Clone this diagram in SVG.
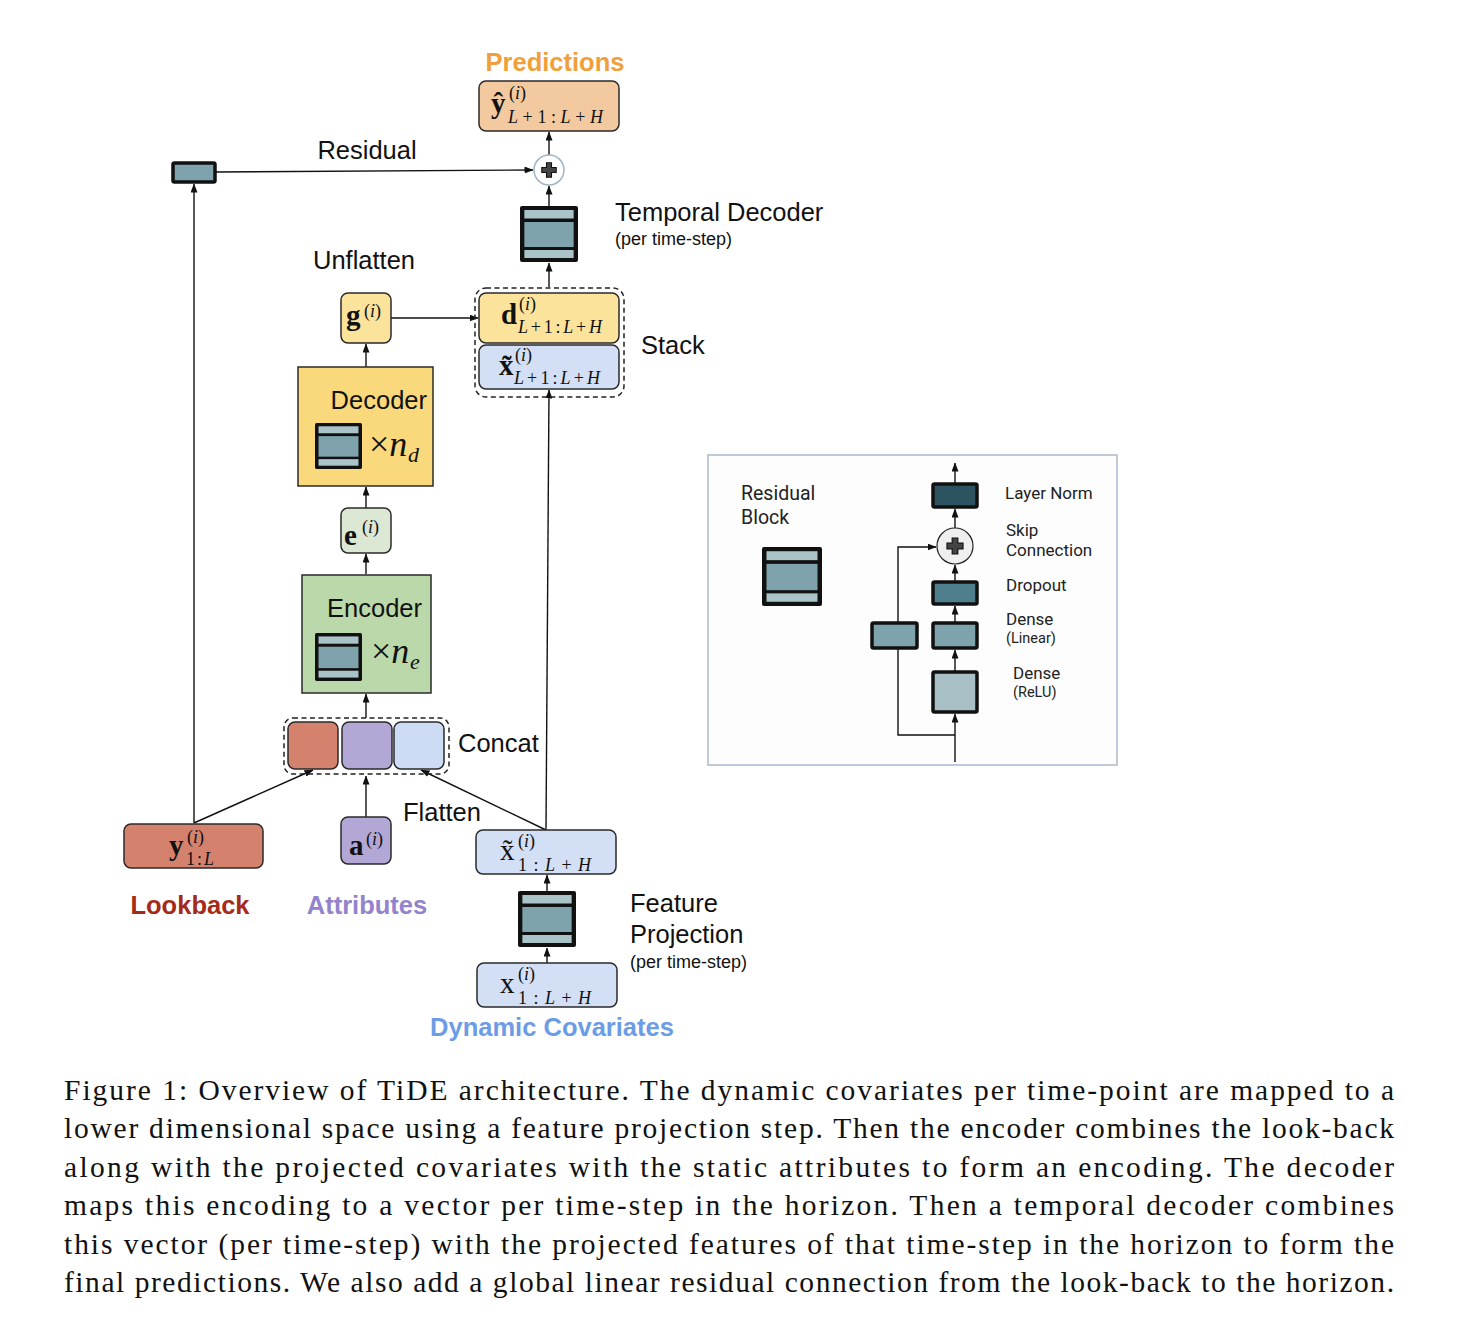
<svg xmlns="http://www.w3.org/2000/svg" width="1470" height="1334" viewBox="0 0 1470 1334">
<style>
.sans{font-family:"Liberation Sans",Arial,sans-serif;font-size:25.5px;fill:#111}
.small{font-family:"Liberation Sans",Arial,sans-serif;font-size:18px;fill:#111}
.bold{font-family:"Liberation Sans",Arial,sans-serif;font-size:25.5px;font-weight:bold}
.ins{font-family:Roboto,"Open Sans",sans-serif;font-size:17px;fill:#222}
.ins2{font-family:Roboto,"Open Sans",sans-serif;font-size:14.5px;fill:#222}
.insb{font-family:Roboto,"Open Sans",sans-serif;font-size:19.5px;fill:#222}
.mv{font-family:"Liberation Serif","Times New Roman",serif;font-size:29px;font-weight:bold;fill:#111}
.mr{font-family:"Liberation Serif","Times New Roman",serif;font-size:29px;fill:#111}
.mx{font-family:"Liberation Serif","Times New Roman",serif;font-size:36px;fill:#111}
.ms{font-family:"Liberation Serif","Times New Roman",serif;font-size:18px;fill:#111}
.md{font-family:"Liberation Serif","Times New Roman",serif;font-size:22px;fill:#111}
.it{font-style:italic}
.box{stroke:#2a2a2a;stroke-width:1.5}
.dash{fill:none;stroke:#222;stroke-width:1.5;stroke-dasharray:5,3.5}
.conn{fill:none;stroke:#111;stroke-width:1.4}
.cap{font-family:"Liberation Serif","Times New Roman",serif;font-size:29.5px;fill:#111}
</style>
<defs>
<marker id="ah" markerWidth="9" markerHeight="7" refX="8.5" refY="3.5" orient="auto" markerUnits="userSpaceOnUse">
<path d="M0,0 L9,3.5 L0,7 z" fill="#111"/>
</marker>
<symbol id="rb" viewBox="0 0 60 56" preserveAspectRatio="none">
<rect x="0" y="0" width="60" height="56" rx="2" fill="#111"/>
<rect x="4.5" y="4" width="51" height="8.5" fill="#A9C3C8"/>
<rect x="4.5" y="16" width="51" height="25" fill="#7FA3AC"/>
<rect x="4.5" y="44" width="51" height="8" fill="#A9C3C8"/>
</symbol>
<symbol id="plus" viewBox="-10 -10 20 20">
<path d="M-2.8,-8 H2.8 V-2.8 H8 V2.8 H2.8 V8 H-2.8 V2.8 H-8 V-2.8 H-2.8 Z" fill="#444" stroke="#111" stroke-width="1.2"/>
</symbol>
</defs>

<rect width="1470" height="1334" fill="#fff"/>

<g id="connectors">
<line class="conn" x1="549" y1="155" x2="549" y2="132" marker-end="url(#ah)"/>
<line class="conn" x1="549" y1="206" x2="549" y2="186" marker-end="url(#ah)"/>
<line class="conn" x1="549" y1="287" x2="549" y2="263" marker-end="url(#ah)"/>
<line class="conn" x1="216" y1="172" x2="533" y2="170" marker-end="url(#ah)"/>
<line class="conn" x1="194" y1="823" x2="194" y2="184" marker-end="url(#ah)"/>
<line class="conn" x1="391" y1="318" x2="478" y2="318" marker-end="url(#ah)"/>
<line class="conn" x1="366" y1="367" x2="366" y2="344" marker-end="url(#ah)"/>
<line class="conn" x1="366" y1="508" x2="366" y2="487" marker-end="url(#ah)"/>
<line class="conn" x1="366" y1="574" x2="366" y2="554" marker-end="url(#ah)"/>
<line class="conn" x1="366" y1="718" x2="366" y2="694" marker-end="url(#ah)"/>
<line class="conn" x1="194" y1="823" x2="313" y2="770" marker-end="url(#ah)"/>
<line class="conn" x1="366" y1="817" x2="366" y2="776" marker-end="url(#ah)"/>
<line class="conn" x1="546" y1="830" x2="421" y2="770" marker-end="url(#ah)"/>
<line class="conn" x1="546" y1="830" x2="549" y2="390" marker-end="url(#ah)"/>
<line class="conn" x1="547" y1="891" x2="547" y2="875" marker-end="url(#ah)"/>
<line class="conn" x1="547" y1="963" x2="547" y2="948" marker-end="url(#ah)"/>
</g>

<g id="predictions">
<text class="bold" x="555" y="71" text-anchor="middle" fill="#F0A03A">Predictions</text>
<rect class="box" x="479" y="81" width="140" height="50" rx="7" fill="#F3C9A0"/>
<text class="mv" x="491" y="113">ŷ</text>
<text class="ms" x="509" y="99">(<tspan class="it">i</tspan>)</text>
<text class="ms" x="508" y="123" textLength="95" lengthAdjust="spacing"><tspan class="it">L</tspan>+1:<tspan class="it">L</tspan>+<tspan class="it">H</tspan></text>
</g>

<g id="sum">
<circle cx="549" cy="170" r="15" fill="#fff" stroke="#9FB4C8" stroke-width="1.5"/>
<use href="#plus" x="540" y="161" width="18" height="18"/>
</g>

<g id="residual-proj">
<rect x="173" y="163" width="42" height="19" fill="#7FA3AC" stroke="#111" stroke-width="3.5" rx="1.5"/>
<text class="sans" x="367" y="159" text-anchor="middle">Residual</text>
</g>

<g id="temporal-decoder">
<use href="#rb" x="520" y="206" width="58" height="56"/>
<text class="sans" x="615" y="221">Temporal Decoder</text>
<text class="small" x="615" y="245">(per time-step)</text>
</g>

<g id="unflatten">
<text class="sans" x="364" y="269" text-anchor="middle">Unflatten</text>
<rect class="box" x="341" y="293" width="50" height="50" rx="7" fill="#FBE39B"/>
<text class="mv" x="346" y="325">g</text>
<text class="ms" x="364" y="317">(<tspan class="it">i</tspan>)</text>
</g>

<g id="stack">
<rect class="dash" x="475" y="288" width="149" height="109" rx="11"/>
<rect class="box" x="479" y="293" width="140" height="50" rx="7" fill="#FBE39B"/>
<text class="mv" x="501" y="324">d</text>
<text class="ms" x="519" y="310">(<tspan class="it">i</tspan>)</text>
<text class="ms" x="518" y="333" textLength="84" lengthAdjust="spacing"><tspan class="it">L</tspan>+1:<tspan class="it">L</tspan>+<tspan class="it">H</tspan></text>
<rect class="box" x="479" y="345" width="140" height="44" rx="7" fill="#D2DFF4"/>
<text class="mv" x="499" y="375">x̃</text>
<text class="ms" x="515" y="361">(<tspan class="it">i</tspan>)</text>
<text class="ms" x="514" y="384" textLength="86" lengthAdjust="spacing"><tspan class="it">L</tspan>+1:<tspan class="it">L</tspan>+<tspan class="it">H</tspan></text>
<text class="sans" x="641" y="354">Stack</text>
</g>

<g id="decoder">
<rect class="box" x="298" y="367" width="135" height="119" fill="#F9D97B"/>
<text class="sans" x="427" y="409" text-anchor="end">Decoder</text>
<use href="#rb" x="315" y="423" width="47" height="46"/>
<text class="mx" x="369" y="456">×<tspan class="it">n</tspan></text>
<text class="md it" x="408" y="462">d</text>
</g>

<g id="encoding">
<rect class="box" x="341" y="508" width="50" height="45" rx="7" fill="#DCE8D4"/>
<text class="mv" x="344" y="545">e</text>
<text class="ms" x="362" y="533">(<tspan class="it">i</tspan>)</text>
</g>

<g id="encoder">
<rect class="box" x="302" y="575" width="129" height="118" fill="#BBD8AB"/>
<text class="sans" x="422" y="617" text-anchor="end">Encoder</text>
<use href="#rb" x="315" y="633" width="47" height="48"/>
<text class="mx" x="371" y="663">×<tspan class="it">n</tspan></text>
<text class="md it" x="410" y="669">e</text>
</g>

<g id="concat">
<rect class="dash" x="284" y="718" width="165" height="56" rx="9"/>
<rect class="box" x="288" y="722" width="50" height="47" rx="7" fill="#D4826E"/>
<rect class="box" x="342" y="722" width="50" height="47" rx="7" fill="#B3A7D5"/>
<rect class="box" x="394" y="722" width="50" height="47" rx="7" fill="#CEDBF5"/>
<text class="sans" x="458" y="752">Concat</text>
</g>

<g id="lookback">
<rect class="box" x="124" y="824" width="139" height="44" rx="7" fill="#D4826E"/>
<text class="mv" x="169" y="855">y</text>
<text class="ms" x="187" y="843">(<tspan class="it">i</tspan>)</text>
<text class="ms" x="186" y="865" textLength="28" lengthAdjust="spacing">1:<tspan class="it">L</tspan></text>
<text class="bold" x="190" y="914" text-anchor="middle" fill="#A52A1A">Lookback</text>
</g>

<g id="attributes">
<rect class="box" x="341" y="817" width="50" height="47" rx="7" fill="#B3A7D5"/>
<text class="mv" x="349" y="855">a</text>
<text class="ms" x="366" y="845">(<tspan class="it">i</tspan>)</text>
<text class="bold" x="367" y="914" text-anchor="middle" fill="#9283CC">Attributes</text>
</g>

<g id="projected-covariates">
<text class="sans" x="403" y="821">Flatten</text>
<rect class="box" x="476" y="830" width="140" height="44" rx="7" fill="#D2DFF4"/>
<text class="mr" x="500" y="860">x̃</text>
<text class="ms" x="518" y="847">(<tspan class="it">i</tspan>)</text>
<text class="ms" x="518" y="871" textLength="73" lengthAdjust="spacing">1:<tspan class="it">L</tspan>+<tspan class="it">H</tspan></text>
</g>

<g id="feature-projection">
<use href="#rb" x="518" y="891" width="58" height="56"/>
<text class="sans" x="630" y="912">Feature</text>
<text class="sans" x="630" y="943">Projection</text>
<text class="small" x="630" y="968">(per time-step)</text>
</g>

<g id="dynamic-covariates">
<rect class="box" x="477" y="963" width="140" height="44" rx="7" fill="#D2DFF4"/>
<text class="mr" x="500" y="993">x</text>
<text class="ms" x="518" y="980">(<tspan class="it">i</tspan>)</text>
<text class="ms" x="518" y="1004" textLength="73" lengthAdjust="spacing">1:<tspan class="it">L</tspan>+<tspan class="it">H</tspan></text>
<text class="bold" x="552" y="1036" text-anchor="middle" fill="#6D9CE6">Dynamic Covariates</text>
</g>

<g id="residual-block-inset">
<rect x="708" y="455" width="409" height="310" fill="#FDFDFD" stroke="#A9B9CC" stroke-width="1.5"/>
<text class="insb" x="741" y="500">Residual</text>
<text class="insb" x="741" y="524">Block</text>
<use href="#rb" x="762" y="547" width="60" height="59"/>
<g id="inset-connectors">
<line class="conn" x1="955" y1="483" x2="955" y2="463" marker-end="url(#ah)"/>
<line class="conn" x1="955" y1="528" x2="955" y2="509" marker-end="url(#ah)"/>
<line class="conn" x1="955" y1="581" x2="955" y2="565" marker-end="url(#ah)"/>
<line class="conn" x1="955" y1="622" x2="955" y2="606" marker-end="url(#ah)"/>
<line class="conn" x1="955" y1="671" x2="955" y2="650" marker-end="url(#ah)"/>
<line class="conn" x1="955" y1="762" x2="955" y2="714" marker-end="url(#ah)"/>
<path class="conn" d="M955,735 H898 V649"/>
<path class="conn" d="M898,622 V547 H936" marker-end="url(#ah)"/>
</g>
<g id="layer-norm">
<rect x="933" y="484" width="44" height="23" fill="#2E5360" stroke="#111" stroke-width="3.5" rx="1.5"/>
<text class="ins" x="1005" y="499">Layer Norm</text>
</g>
<g id="skip-add">
<circle cx="955" cy="546" r="18" fill="#EFEFEF" stroke="#222" stroke-width="1.2"/>
<use href="#plus" x="945" y="536" width="20" height="20"/>
<text class="ins" x="1006" y="536">Skip</text>
<text class="ins" x="1006" y="556">Connection</text>
</g>
<g id="dropout">
<rect x="933" y="582" width="44" height="22" fill="#4F7F8C" stroke="#111" stroke-width="3.5" rx="1.5"/>
<text class="ins" x="1006" y="591">Dropout</text>
</g>
<g id="dense-linear">
<rect x="933" y="623" width="44" height="25" fill="#7FA3AC" stroke="#111" stroke-width="3.5" rx="1.5"/>
<text class="ins" x="1006" y="625">Dense</text>
<text class="ins2" x="1006" y="643">(Linear)</text>
</g>
<g id="skip-dense">
<rect x="872" y="623" width="45" height="25" fill="#7FA3AC" stroke="#111" stroke-width="3.5" rx="1.5"/>
</g>
<g id="dense-relu">
<rect x="933" y="672" width="44" height="40" fill="#A8C0C5" stroke="#111" stroke-width="3.5" rx="1.5"/>
<text class="ins" x="1013" y="679">Dense</text>
<text class="ins2" x="1013" y="697">(ReLU)</text>
</g>
</g>

<g id="caption">
<text class="cap" x="64" y="1100" textLength="1330" lengthAdjust="spacing">Figure 1: Overview of TiDE architecture. The dynamic covariates per time-point are mapped to a</text>
<text class="cap" x="64" y="1138" textLength="1330" lengthAdjust="spacing">lower dimensional space using a feature projection step. Then the encoder combines the look-back</text>
<text class="cap" x="64" y="1177" textLength="1330" lengthAdjust="spacing">along with the projected covariates with the static attributes to form an encoding. The decoder</text>
<text class="cap" x="64" y="1215" textLength="1330" lengthAdjust="spacing">maps this encoding to a vector per time-step in the horizon. Then a temporal decoder combines</text>
<text class="cap" x="64" y="1254" textLength="1330" lengthAdjust="spacing">this vector (per time-step) with the projected features of that time-step in the horizon to form the</text>
<text class="cap" x="64" y="1292" textLength="1330" lengthAdjust="spacing">final predictions. We also add a global linear residual connection from the look-back to the horizon.</text>
</g>
</svg>
